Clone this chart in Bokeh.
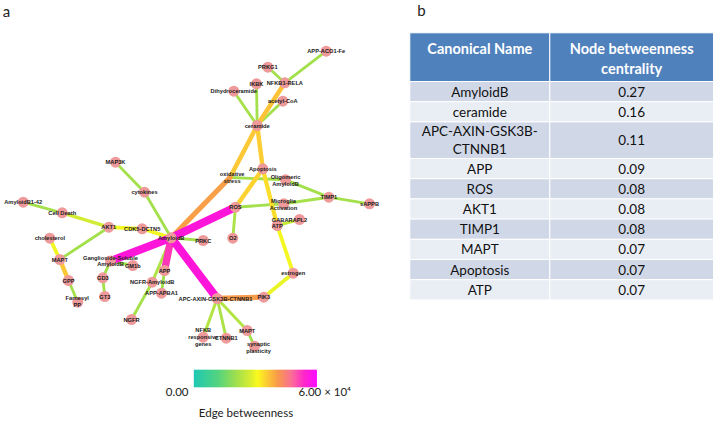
from bokeh.plotting import figure
from bokeh.models import Range1d
from bokeh.core.properties import value
from bokeh.embed import file_html
from bokeh.resources import INLINE

# ---------------- data ----------------
# table (panel b)
table_headers = ["Canonical Name", "Node betweenness\ncentrality"]
table_names = ["AmyloidB", "ceramide", "APC-AXIN-GSK3B-\nCTNNB1", "APP", "ROS",
               "AKT1", "TIMP1", "MAPT", "Apoptosis", "ATP"]
table_values = [0.27, 0.16, 0.11, 0.09, 0.08, 0.08, 0.08, 0.07, 0.07, 0.07]

# network (panel a)
node_ids = ["app_aco1", "prkg1", "nfkb1", "ikbk", "dihydro", "acetyl", "ceramide",
            "apoptosis", "oxstress", "oligo", "timp1", "sappb", "ros", "microglia",
            "atp", "gabarapl2", "o2", "prkc", "estrogen", "pik3", "apc", "map3k",
            "cytokines", "ab142", "celldeath", "akt1", "cdk5", "amyloidb",
            "cholesterol", "mapt1", "ganglio", "gm1b", "gd3", "gt3", "gpp",
            "farnesyl", "app", "ngfr_ab", "app_apba1", "ngfr", "nfkb_resp",
            "ctnnb1", "mapt2", "synaptic"]
node_labels = ["APP-ACO1-Fe", "PRKG1", "NFKB1-RELA", "IKBK", "Dihydroceramide",
               "acetyl-CoA", "ceramide", "Apoptosis", "oxidative\nstress",
               "Oligomeric\nAmyloidB", "TIMP1", "sAPPB", "ROS", "Microglia\nActivation",
               "ATP", "GABARAPL2", "O2", "PRKC", "estrogen", "PIK3",
               "APC-AXIN-GSK3B-CTNNB1", "MAP3K", "cytokines", "AmyloidB1-42",
               "Cell Death", "AKT1", "CDK5-DCTN5", "AmyloidB", "cholesterol", "MAPT",
               "Ganglioside-Soluble\nAmyloidB", "GM1b", "GD3", "GT3", "GPP",
               "Farnesyl\nPP", "APP", "NGFR-AmyloidB", "APP-APBA1", "NGFR",
               "NFKB\nresponsive\ngenes", "CTNNB1", "MAPT", "synaptic\nplasticity"]

edge_source = ["app_aco1", "prkg1", "nfkb1", "ikbk", "dihydro", "acetyl", "ceramide",
               "ceramide", "oxstress", "oxstress", "apoptosis", "apoptosis", "oligo",
               "microglia", "ros", "timp1", "atp", "atp", "estrogen", "ros", "ros",
               "amyloidb", "amyloidb", "cytokines", "amyloidb", "cdk5", "akt1",
               "celldeath", "akt1", "cholesterol", "mapt1", "gpp", "amyloidb",
               "ganglio", "ganglio", "gd3", "amyloidb", "app", "amyloidb", "ngfr_ab",
               "amyloidb", "apc", "apc", "apc", "apc", "mapt2"]
edge_target = ["nfkb1", "nfkb1", "ceramide", "ceramide", "ceramide", "ceramide",
               "oxstress", "apoptosis", "amyloidb", "oligo", "ros", "atp", "timp1",
               "timp1", "microglia", "sappb", "gabarapl2", "estrogen", "pik3", "o2",
               "amyloidb", "prkc", "cytokines", "map3k", "cdk5", "akt1", "celldeath",
               "ab142", "mapt1", "mapt1", "gpp", "farnesyl", "ganglio", "gm1b", "gd3",
               "gt3", "app", "app_apba1", "ngfr_ab", "ngfr", "apc", "pik3",
               "nfkb_resp", "ctnnb1", "mapt2", "synaptic"]
edge_betweenness = [21000, 21000, 36500, 21000, 21500, 21000, 36000,
                    35500, 40500, 21000, 35000, 34000, 21000,
                    21500, 21000, 21000, 26000, 30500, 29500, 22000, 56000,
                    21000, 21000, 21000, 30500, 30500, 27000,
                    21000, 21000, 30000, 36000, 21000, 56000,
                    21000, 21000, 21000, 52000, 21000, 22500, 21500,
                    56000, 41000, 23000, 22000, 23000, 21000]
colorbar_low, colorbar_high = 0.0, 60000.0
colorbar_title = "Edge betweenness"
colorbar_low_label = "0.00"
colorbar_high_label = "6.00 \u00d7 10\u2074"

# ---------------- layout (pixel positions in the 716x421 page) ----------------
layout = {
    "app_aco1": (325.7, 50.7), "prkg1": (267.3, 66.7), "nfkb1": (284.3, 82.3),
    "ikbk": (256, 83.3), "dihydro": (233.3, 90.7), "acetyl": (282.3, 100.7),
    "ceramide": (256.7, 125), "apoptosis": (262.3, 168.3), "oxstress": (229.5, 177),
    "oligo": (285, 179.3), "timp1": (328.3, 196.7), "sappb": (369, 203.3),
    "ros": (235, 206.7), "microglia": (283.3, 203.3), "atp": (276.7, 225),
    "gabarapl2": (299, 219), "o2": (232.3, 237.7), "prkc": (202.7, 240),
    "estrogen": (292.7, 272.7), "pik3": (263.3, 296.7), "apc": (216.7, 298),
    "map3k": (115, 161.7), "cytokines": (144, 191.7), "ab142": (22.7, 201.7),
    "celldeath": (61.7, 212.3), "akt1": (108.3, 226.7), "cdk5": (141.7, 228.3),
    "amyloidb": (170.7, 237.3), "cholesterol": (49.3, 237.7), "mapt1": (59.3, 259),
    "ganglio": (110, 260.5), "gm1b": (132.3, 265), "gd3": (102.3, 277.3),
    "gt3": (104.3, 296), "gpp": (68, 280), "farnesyl": (77.3, 301.7),
    "app": (164, 270), "ngfr_ab": (151.7, 281.7), "app_apba1": (161, 292.7),
    "ngfr": (131, 319), "nfkb_resp": (202.7, 336.7), "ctnnb1": (225.7, 337.7),
    "mapt2": (246.7, 330), "synaptic": (254, 345.7),
}
label_pos = {"oxstress": (231.7, 177), "oligo": (285, 180), "microglia": (283, 204),
             "gabarapl2": (289, 219), "farnesyl": (76.7, 301), "nfkb_resp": (202.7, 336.5),
             "synaptic": (258, 346.7), "apc": (215, 298)}
hidden_nodes = {"oxstress"}

W, H = 716, 421
p = figure(width=W, height=H, x_range=Range1d(0, W), y_range=Range1d(H, 0),
           output_backend="svg", toolbar_location=None, min_border=0,
           x_axis_location=None, y_axis_location=None)
p.grid.visible = False
p.outline_line_color = None

# palette (Cytoscape-like edge betweenness gradient)
anchors = [(0.00, "#1ec8b4"), (0.20, "#55d47e"), (0.35, "#a3e04c"), (0.45, "#d2ec34"),
           (0.52, "#fafa1e"), (0.60, "#fcc836"), (0.68, "#f89c48"), (0.80, "#fa6a96"),
           (0.90, "#ff1ec8"), (1.00, "#ff00ff")]


def hex2rgb(h):
    return tuple(int(h[i:i + 2], 16) for i in (1, 3, 5))


def cmap(t):
    t = min(max(t, 0.0), 1.0)
    for (t0, c0), (t1, c1) in zip(anchors[:-1], anchors[1:]):
        if t <= t1:
            f = (t - t0) / (t1 - t0)
            a, b = hex2rgb(c0), hex2rgb(c1)
            return "#%02x%02x%02x" % tuple(round(a[k] + f * (b[k] - a[k])) for k in range(3))
    return anchors[-1][1]


# edges (draw low betweenness first)
order = sorted(range(len(edge_source)), key=lambda i: edge_betweenness[i])
x0 = [layout[edge_source[i]][0] for i in order]
y0 = [layout[edge_source[i]][1] for i in order]
x1 = [layout[edge_target[i]][0] for i in order]
y1 = [layout[edge_target[i]][1] for i in order]
tvals = [(edge_betweenness[i] - colorbar_low) / (colorbar_high - colorbar_low) for i in order]
ecol = [cmap(t) for t in tvals]
ewid = [2.0 + 7.0 * t * t for t in tvals]
p.segment(x0=x0, y0=y0, x1=x1, y1=y1, line_color=ecol, line_width=ewid, line_cap="round")

# nodes
vis = [n for n in node_ids if n not in hidden_nodes]
p.scatter(x=[layout[n][0] for n in vis], y=[layout[n][1] for n in vis], size=11,
          fill_color="#ef9a9a", line_color=None)

# node labels
lx, ly, lt = [], [], []
for nid, lab in zip(node_ids, node_labels):
    cx, cy = label_pos.get(nid, layout[nid])
    lines = lab.split("\n")
    sp = 6.9
    for k, ln in enumerate(lines):
        lx.append(cx)
        ly.append(cy + (k - (len(lines) - 1) / 2) * sp)
        lt.append(ln)
p.text(x=lx, y=ly, text=lt, text_font=value("Liberation Sans"), text_font_style="bold",
       text_font_size="5.7px", text_align="center", text_baseline="middle",
       text_color="#1a1a1a")

# colorbar
cb_x0, cb_x1, cb_y0, cb_y1 = 193.3, 316.0, 369.3, 386.7
n = 123
step = (cb_x1 - cb_x0) / n
p.quad(left=[cb_x0 + k * step for k in range(n)],
       right=[cb_x0 + (k + 1) * step + 0.4 for k in range(n)],
       top=[cb_y0] * n, bottom=[cb_y1] * n,
       fill_color=[cmap((k + 0.5) / n) for k in range(n)], line_color=None)
p.text(x=[188], y=[391], text=[colorbar_low_label], text_font=value("Lato"),
       text_font_size="11.5px", text_align="right", text_baseline="middle", text_color="#222222")
p.text(x=[298], y=[391], text=[colorbar_high_label], text_font=value("Lato"),
       text_font_size="11.5px", text_align="left", text_baseline="middle", text_color="#222222")
p.text(x=[245.5], y=[411.5], text=[colorbar_title], text_font=value("Lato"),
       text_font_size="11.5px", text_align="center", text_baseline="middle", text_color="#222222")

# panel letters
p.text(x=[6, 421], y=[10, 9.5], text=["a", "b"], text_font=value("Lato"),
       text_font_size="15px", text_align="center", text_baseline="middle", text_color="#222222")

# table
tx0, tx1, tx2 = 409.3, 549.3, 713.0
ty0, hy = 32.3, 81.0
p.quad(left=[tx0, tx1], right=[tx1, tx2], top=[ty0, ty0], bottom=[hy, hy],
       fill_color="#4f81bd", line_color="white", line_width=1)
hx = [(tx0 + tx1) / 2, (tx1 + tx2) / 2]
htx, hty, htt = [], [], []
for cx, h in zip(hx, table_headers):
    for k, ln in enumerate(h.split("\n")):
        htx.append(cx)
        hty.append(47.5 + k * 20.2)
        htt.append(ln)
p.text(x=htx, y=hty, text=htt, text_font=value("Lato"), text_font_style="bold",
       text_font_size="14.5px", text_align="center", text_baseline="middle", text_color="white")

row_top = hy
rl, rr, rt, rb, rc = [], [], [], [], []
bx, by, bt = [], [], []
for i, (nm, v) in enumerate(zip(table_names, table_values)):
    nl = len(nm.split("\n"))
    h = 20.2 + 16.4 * (nl - 1)
    col = "#d0d8e8" if i % 2 == 0 else "#e9edf4"
    for a, b in ((tx0, tx1), (tx1, tx2)):
        rl.append(a); rr.append(b); rt.append(row_top); rb.append(row_top + h); rc.append(col)
    mid = row_top + h / 2
    for k, ln in enumerate(nm.split("\n")):
        bx.append(hx[0]); by.append(mid + (k - (nl - 1) / 2) * 17.5); bt.append(ln)
    bx.append(hx[1]); by.append(mid); bt.append("%.2f" % v)
    row_top += h
p.quad(left=rl, right=rr, top=rt, bottom=rb, fill_color=rc, line_color="white", line_width=1)
p.text(x=bx, y=by, text=bt, text_font=value("Lato"), text_font_size="13.5px",
       text_align="center", text_baseline="middle", text_color="#111111")

open("out.html", "w").write(file_html(p, INLINE))
